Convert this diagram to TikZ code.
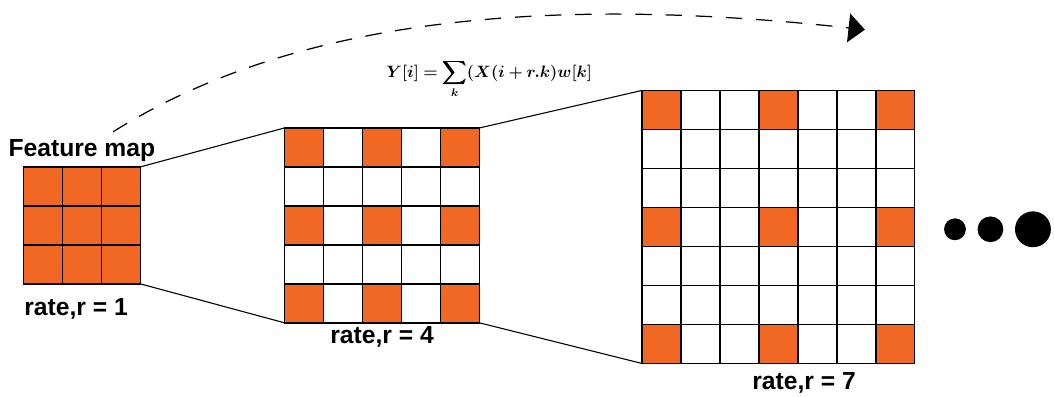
\documentclass[tikz,border=0pt]{standalone}
\usepackage{amsmath}
\usepackage{bm}
\usepackage{fontspec}
\setmainfont{Liberation Sans}
\usepackage{tikz}
\usetikzlibrary{arrows.meta, positioning}
\definecolor{cellorange}{RGB}{241,103,36}
\newcommand{\dilsum}{$\displaystyle \bm{Y[i] = \sum_{k}(X(i+r.k)w[k]}$}

\begin{document}
\begin{tikzpicture}[
  gridbox/.style={inner sep=0pt, outer sep=0pt, minimum size=#1},
  cell/.style={draw, line width=1pt},
  hot/.style={cell, fill=cellorange},
  lbl/.style={inner sep=1pt, font=\bfseries\fontsize{18}{20}\selectfont},
  eqnode/.style={inner sep=0pt, font=\fontsize{11.5}{13}\selectfont},
  link/.style={line width=0.8pt},
  dot/.style={circle, fill=black, inner sep=0pt, minimum size=#1}
]
\useasboundingbox (0,0) rectangle (27.03,10.18);

% the three grids
\node[gridbox=3cm, anchor=south west] (g1) at (0.6,2.9) {};
\node[gridbox=5cm, anchor=south west] (g2) at (7.3,1.9) {};
\node[gridbox=7cm, anchor=south west] (g3) at (16.46,0.86) {};

\begin{scope}[shift={(g1.south west)}]
  \foreach \x in {0,...,2} \foreach \y in {0,...,2}
    \draw[hot] (\x,\y) rectangle ++(1,1);
\end{scope}
\begin{scope}[shift={(g2.south west)}]
  \foreach \x in {0,...,4} \foreach \y in {0,...,4}
    \draw[cell] (\x,\y) rectangle ++(1,1);
  \foreach \x in {0,2,4} \foreach \y in {0,2,4}
    \draw[hot] (\x,\y) rectangle ++(1,1);
\end{scope}
\begin{scope}[shift={(g3.south west)}]
  \foreach \x in {0,...,6} \foreach \y in {0,...,6}
    \draw[cell] (\x,\y) rectangle ++(1,1);
  \foreach \x in {0,3,6} \foreach \y in {0,3,6}
    \draw[hot] (\x,\y) rectangle ++(1,1);
\end{scope}

% labels
\node[lbl, above=1mm of g1] (fm) {Feature map};
\node[lbl, below=0.33cm of g1, xshift=-0.15cm] (r1) {rate,r = 1};
\node[lbl, below=0.05cm of g2] (r4) {rate,r = 4};
\node[lbl, below=0.2cm of g3, xshift=0.66cm] (r7) {rate,r = 7};

% formula
\node[eqnode, anchor=base] (eq) at (12.55,8.2) {\dilsum};

% expansion lines
\draw[link] (g1.north east) -- (g2.north west);
\draw[link] (g1.south east) -- (g2.south west);
\draw[link] (g2.north east) -- (g3.north west);
\draw[link] (g2.south east) -- (g3.south west);

% dashed arc
\coordinate (arcstart) at (2.9,6.8);
\coordinate (arcend) at (22.18,9.42);
\draw[line width=0.9pt, dash pattern=on 12pt off 10pt,
  -{Triangle[length=0.42cm, width=0.74cm]}]
  (arcstart) .. controls (8,10.0) and (15,10.2) .. (arcend);

% dots
\node[dot=0.56cm] (d1) at (24.49,4.3) {};
\node[dot=0.66cm] (d2) at (25.4,4.3) {};
\node[dot=0.92cm] (d3) at (26.49,4.3) {};
\end{tikzpicture}
\end{document}
